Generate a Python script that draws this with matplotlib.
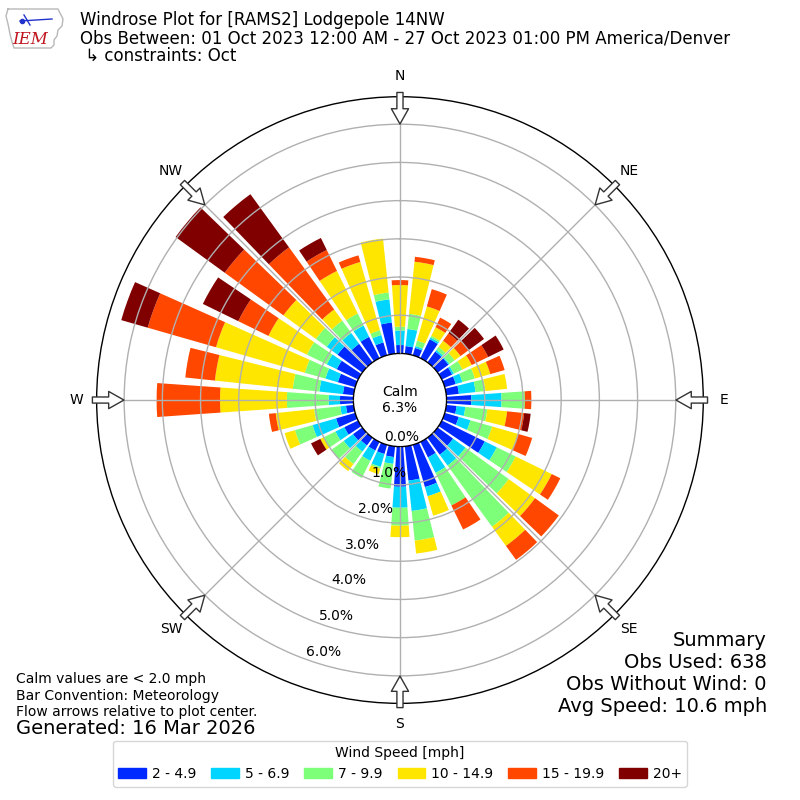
import numpy as np
import matplotlib
matplotlib.use("Agg")
import matplotlib.pyplot as plt
from matplotlib.patches import Patch

# wind direction bins (degrees, centre of each 10 deg sector)
directions = np.arange(0, 360, 10)
speed_labels = ["2 - 4.9", "5 - 6.9", "7 - 9.9", "10 - 14.9", "15 - 19.9", "20+"]

# percent of obs in each sector, one list per speed bin
pct_2_5 = [0.22, 0.2, 0.2, 0.55, 0.35, 0.35, 0.3, 0.3, 0.33, 0.65, 0.27, 0.38,
           1.25, 0.5, 0.55, 0.45, 1.15, 0.9, 1.05, 0.28, 0.25, 0.25, 0.25, 0.3,
           0.4, 0.52, 0.2, 0.35, 0.28, 0.47, 0.62, 0.8, 0.6, 0.62, 0.35, 0.82]
pct_5_7 = [0.38, 0.45, 0.05, 0.05, 0.05, 0.03, 0.05, 0.18, 0.44, 0.79, 0.23, 0.32,
           0.35, 0.4, 0.35, 0.45, 0.25, 0.8, 0.55, 0.18, 0.35, 0.3, 0.2, 0.3,
           0.26, 0.64, 0.15, 0.3, 0.62, 0.34, 0.29, 0.35, 0.35, 0.33, 0.2, 0.61]
pct_7_10 = [0.1, 0.4, 0.15, 0.05, 0.1, 0.17, 0.25, 0.34, 0.26, 0.61, 0.58, 0.59,
            0.55, 1.4, 1.98, 0.95, 0.0, 0.78, 0.47, 0.65, 0.05, 0.5, 0.4, 0.4,
            0.34, 0.48, 0.69, 1.09, 0.7, 0.56, 0.58, 0.35, 0.4, 0.35, 0.13, 0.18]
pct_10_15 = [1.09, 1.37, 0.93, 0.25, 0.2, 0.19, 0.27, 0.42, 0.57, 0.0, 0.52, 0.71,
             1.05, 0.85, 0.62, 0.0, 0.53, 0.34, 0.3, 0.0, 0.15, 0.0, 0.23, 0.0,
             0.1, 0.28, 1.01, 1.75, 2.05, 2.42, 1.12, 1.05, 0.36, 1.24, 1.86, 1.42]
pct_15_20 = [0.13, 0.13, 0.47, 0.28, 0.24, 0.26, 0.48, 0.39, 0.0, 0.17, 0.45, 0.38,
             0.25, 0.77, 0.45, 0.7, 0.0, 0.0, 0.0, 0.0, 0.0, 0.0, 0.0, 0.0,
             0.0, 0.0, 0.18, 1.66, 0.78, 1.86, 0.88, 1.9, 2.01, 0.61, 0.18, 0.0]
pct_20_up = [0.0, 0.0, 0.0, 0.0, 0.44, 0.5, 0.45, 0.0, 0.0, 0.0, 0.17, 0.0,
             0.0, 0.0, 0.0, 0.0, 0.0, 0.0, 0.0, 0.0, 0.0, 0.0, 0.0, 0.0,
             0.27, 0.0, 0.0, 0.0, 0.0, 0.72, 1.03, 1.59, 1.72, 0.35, 0.0, 0.0]

calm_pct = 6.3
rticks = [0, 1, 2, 3, 4, 5, 6]
compass = ["N", "NE", "E", "SE", "S", "SW", "W", "NW"]

fig = plt.figure(figsize=(8, 8), dpi=100)
ax = fig.add_axes([0.1208, 0.1208, 0.7583, 0.7583], projection="polar")
ax.set_theta_zero_location("N")
ax.set_theta_direction(-1)
ax.set_rorigin(-1.22)
ax.set_ylim(0, 6.72)

colors = plt.cm.jet(np.linspace(1 / 6., 1, 6))
theta = np.deg2rad(directions)
bottom = np.zeros(len(directions))
series = [pct_2_5, pct_5_7, pct_7_10, pct_10_15, pct_15_20, pct_20_up]
for vals, c in zip(series, colors):
    vals = np.array(vals)
    ax.bar(theta, vals, width=np.deg2rad(8), bottom=bottom, color=c,
           linewidth=0, zorder=1)
    bottom += vals

ax.set_rgrids(rticks[1:], labels=[])
ax.set_thetagrids(range(0, 360, 45), labels=[])
ax.grid(True, color="#b0b0b0", lw=1)
ax.set_axisbelow(False)
for sp in ax.spines.values():
    sp.set_linewidth(1)

# radial labels
for v in rticks:
    ax.text(np.deg2rad(200), v, "%.1f%%" % v, ha="left", va="bottom",
            fontsize=10, zorder=5)

# compass labels + flow arrows
for i, lab in enumerate(compass):
    a = np.deg2rad(i * 45)
    s, c = np.sin(a), np.cos(a)
    ax.text(0.5 + 0.534 * s, 0.5 + 0.534 * c, lab, transform=ax.transAxes,
            ha="center", va="center", fontsize=10)
    ax.annotate("", xy=(0.5 + 0.455 * s, 0.5 + 0.455 * c),
                xytext=(0.5 + 0.507 * s, 0.5 + 0.507 * c),
                xycoords="axes fraction", textcoords="axes fraction",
                annotation_clip=False,
                arrowprops=dict(arrowstyle="simple,head_length=0.55,head_width=0.62,tail_width=0.22",
                                mutation_scale=20, fc="white", ec="#333333",
                                lw=1, shrinkA=0, shrinkB=0))

ax.text(0.5, 0.5, "Calm\n%.1f%%" % calm_pct, transform=ax.transAxes,
        ha="center", va="center", fontsize=10)

# rough IEM logo (state outline + text)
lax = fig.add_axes([0, 1 - 52 / 800., 70 / 800., 50 / 800.])
lax.set_xlim(0, 70)
lax.set_ylim(52, 2)
lax.axis("off")
ox = [8, 58, 60, 63, 62, 58, 57, 54, 54, 51, 14, 12, 10, 8, 6, 8]
oy = [9, 9, 13, 19, 26, 30, 36, 40, 45, 48, 48, 42, 34, 24, 16, 9]
lax.plot(ox, oy, color="#b8b8b8", lw=1)
lax.plot([20, 52], [21, 19], color="#2233cc", lw=1)
lax.plot([24, 30], [15, 25], color="#2233cc", lw=1)
lax.plot([22], [21], "o", color="#2233cc", ms=3)
lax.text(30, 39, "IEM", color="#c0141e", fontsize=12, style="italic",
         family="serif", ha="center", va="center")

# header
fig.text(0.1, 1 - 20 / 800., "Windrose Plot for [RAMS2] Lodgepole 14NW",
         fontsize=12, va="center")
fig.text(0.1, 1 - 38.5 / 800., "Obs Between: 01 Oct 2023 12:00 AM - 27 Oct 2023 01:00 PM America/Denver",
         fontsize=12, va="center")
fig.text(0.1, 1 - 55.5 / 800., " \u21b3 constraints: Oct", fontsize=12, va="center")

# footer left
fig.text(0.02, 1 - 679 / 800., "Calm values are < 2.0 mph", fontsize=10, va="center")
fig.text(0.02, 1 - 696 / 800., "Bar Convention: Meteorology", fontsize=10, va="center")
fig.text(0.02, 1 - 712 / 800., "Flow arrows relative to plot center.", fontsize=10, va="center")
fig.text(0.02, 1 - 729 / 800., "Generated: 16 Mar 2026", fontsize=14, va="center")

# summary
summary = ["Summary", "Obs Used: 638", "Obs Without Wind: 0", "Avg Speed: 10.6 mph"]
for i, line in enumerate(summary):
    fig.text(767 / 800., 1 - (640 + 22 * i) / 800., line, fontsize=14,
             ha="right", va="center")

handles = [Patch(color=c) for c in colors]
fig.legend(handles, speed_labels, ncol=6, loc="lower center",
           bbox_to_anchor=(0.5, 0.008), title="Wind Speed [mph]",
           fontsize=10, title_fontsize=10, handletextpad=0.4,
           columnspacing=1.1)

fig.savefig("out.png", dpi=100)
